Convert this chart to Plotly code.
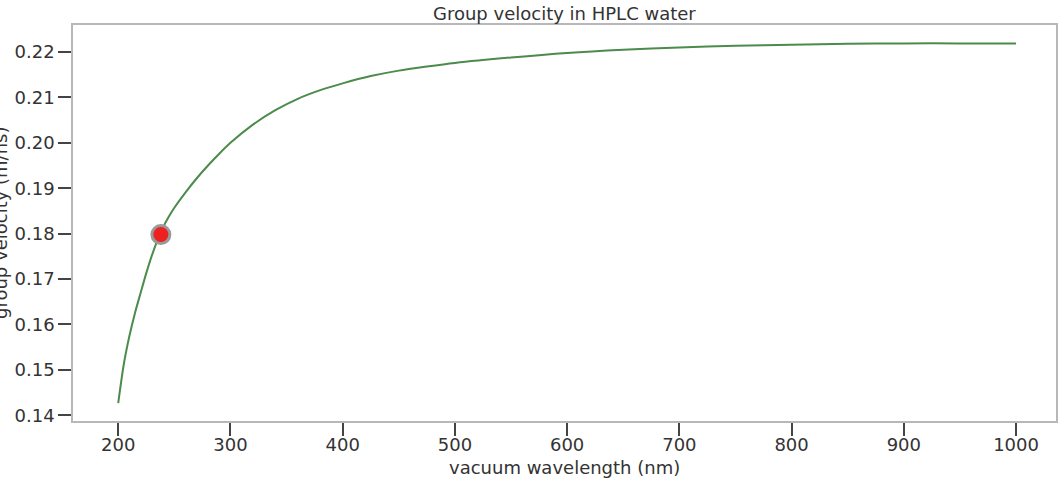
import plotly.graph_objects as go

# Group velocity of light in HPLC-grade water vs. vacuum wavelength
wavelength_nm = [200, 205, 210, 215, 220, 225, 230, 235, 240, 245, 250, 260,
                 270, 280, 290, 300, 320, 340, 360, 380, 400, 425, 450, 475,
                 500, 550, 600, 650, 700, 750, 800, 850, 900, 950, 1000]
group_velocity = [0.1427, 0.1513, 0.1575, 0.1626, 0.1670, 0.1713, 0.1752,
                  0.1786, 0.1814, 0.1837, 0.1857, 0.1891, 0.1922, 0.1950,
                  0.1976, 0.2000, 0.2040, 0.2072, 0.2097, 0.2116, 0.2131,
                  0.2147, 0.2159, 0.2168, 0.2176, 0.2188, 0.2198, 0.2205,
                  0.2210, 0.2214, 0.2216, 0.2218, 0.2219, 0.2219, 0.2219]

# Highlighted operating point
point_wavelength = [238]
point_velocity = [0.1798]

x_ticks = [200, 300, 400, 500, 600, 700, 800, 900, 1000]
y_ticks = [0.14, 0.15, 0.16, 0.17, 0.18, 0.19, 0.20, 0.21, 0.22]
y_tick_text = ["%.2f" % v for v in y_ticks]

FONT = "DejaVu Sans"
TEXT = "#333333"
SIZE = 18

fig = go.Figure()
fig.add_trace(go.Scatter(
    x=wavelength_nm, y=group_velocity, mode="lines",
    line=dict(color="#4b8b4b", width=2, shape="spline", smoothing=0.8),
    hoverinfo="skip", showlegend=False,
))
fig.add_trace(go.Scatter(
    x=point_wavelength, y=point_velocity, mode="markers",
    marker=dict(size=18, color="#ee2020", line=dict(color="#999999", width=3)),
    showlegend=False,
))

axis_common = dict(
    showline=True, mirror=True, linecolor="#b8b8b8", linewidth=1.5,
    showgrid=False, zeroline=False,
    ticks="outside", ticklen=13, tickwidth=1.5, tickcolor="#444444",
    tickfont=dict(family=FONT, size=SIZE, color=TEXT),
)

fig.update_xaxes(range=[159.7, 1035.6], tickvals=x_ticks,
                 ticklabelstandoff=-6, **axis_common)
fig.update_yaxes(range=[0.13874, 0.22595], tickvals=y_ticks,
                 ticktext=y_tick_text, **axis_common)

fig.update_layout(
    width=1060, height=478,
    margin=dict(l=73, r=2, t=25, b=57),
    paper_bgcolor="white", plot_bgcolor="white",
    annotations=[
        dict(text="Group velocity in HPLC water", xref="paper", yref="paper",
             x=0.5, y=1, yanchor="bottom", yshift=-1, showarrow=False,
             font=dict(family=FONT, size=SIZE, color=TEXT)),
        dict(text="vacuum wavelength (nm)", xref="paper", yref="paper",
             x=0.5, y=0, yanchor="middle", yshift=-46, showarrow=False,
             font=dict(family=FONT, size=SIZE, color=TEXT)),
        dict(text="group velocity (m/ns)", xref="paper", yref="paper",
             x=0, y=0.5, xanchor="center", yanchor="middle", xshift=-73,
             textangle=-90, showarrow=False,
             font=dict(family=FONT, size=SIZE, color=TEXT)),
    ],
)

fig.write_html("out.html")
